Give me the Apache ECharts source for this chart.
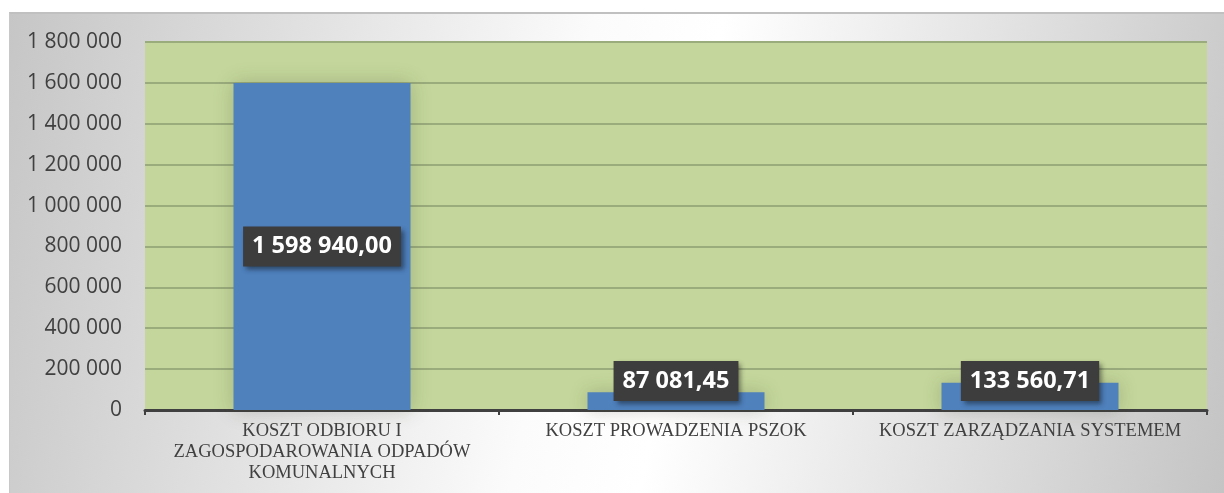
<!DOCTYPE html>
<html>
<head>
<meta charset="utf-8">
<script src="https://cdn.jsdelivr.net/npm/echarts@6/dist/echarts.min.js"></script>
<style>
html,body{margin:0;padding:0;background:#fff;}
#frame{position:absolute;left:9px;top:12px;width:1215px;height:481px;box-sizing:border-box;border-top:2px solid #c0c0c0;border-left:1px solid #c8c8c8;
background:linear-gradient(100deg, #c6c6c6 0%, #fbfbfb 45%, #ffffff 55%, #c4c4c4 100%);}
#chart{position:absolute;left:0;top:0;width:1224px;height:493px;}
</style>
</head>
<body>
<div id="frame"></div>
<div id="chart"></div>
<script>
const categories = [
  'KOSZT ODBIORU I\nZAGOSPODAROWANIA ODPADÓW\nKOMUNALNYCH',
  'KOSZT PROWADZENIA PSZOK',
  'KOSZT ZARZĄDZANIA SYSTEMEM'
];
const values = [1598940.00, 87081.45, 133560.71];
const yMin = 0, yMax = 1800000, yStep = 200000;

function fmtInt(v){ return String(Math.round(v)).replace(/\B(?=(\d{3})+(?!\d))/g, ' '); }
function fmtDec(v){
  const parts = v.toFixed(2).split('.');
  return parts[0].replace(/\B(?=(\d{3})+(?!\d))/g, ' ') + ',' + parts[1];
}

const chart = echarts.init(document.getElementById('chart'), null, {renderer:'canvas'});
const labelBase = {
  show: true,
  color: '#ffffff',
  fontFamily: 'Open Sans',
  fontWeight: 'bold',
  fontSize: 23.5,
  lineHeight: 26,
  backgroundColor: '#3d3d3d',
  padding: [7, 9],
  shadowColor: 'rgba(0,0,0,0.45)',
  shadowBlur: 5,
  shadowOffsetX: 3,
  shadowOffsetY: 3,
  formatter: p => fmtDec(p.value)
};
const dataItems = values.map((v, i) => ({
  value: v,
  label: i === 0 ? Object.assign({}, labelBase, {position: 'inside'})
                 : Object.assign({}, labelBase, {position: 'insideBottom', distance: 9})
}));

chart.setOption({
  backgroundColor: 'transparent',
  animation: false,
  grid: {left: 145, right: 17, top: 42, bottom: 83, show: true, backgroundColor: '#c4d69b', borderWidth: 0},
  xAxis: {
    type: 'category',
    data: categories,
    axisLine: {show: true, lineStyle: {color: '#404040', width: 3}},
    axisTick: {show: true, length: 5, lineStyle: {color: '#404040', width: 2}},
    axisLabel: {interval: 0, color: '#404040', fontFamily: 'Liberation Serif', fontSize: 18.5, lineHeight: 21, margin: 11}
  },
  yAxis: {
    type: 'value',
    min: yMin, max: yMax, interval: yStep,
    axisLine: {show: false},
    axisTick: {show: false},
    splitLine: {lineStyle: {color: '#9aab7c', width: 2}},
    axisLabel: {color: '#404040', fontFamily: 'Open Sans', fontSize: 21, margin: 23, formatter: v => fmtInt(v)}
  },
  series: [{
    type: 'bar',
    data: dataItems,
    barWidth: '50%',
    itemStyle: {color: '#4f81bd', shadowColor: 'rgba(60,70,40,0.25)', shadowBlur: 18},
    z: 2
  }]
});
</script>
</body>
</html>
